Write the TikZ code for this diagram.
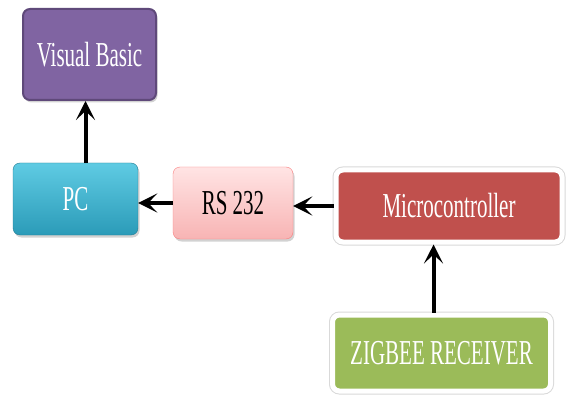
\documentclass[tikz,border=0pt]{standalone}
\usepackage{fontspec}
\newfontfamily\boxfont[FakeStretch=0.6]{Liberation Serif}
\usetikzlibrary{arrows.meta,shadows}
\definecolor{vbfill}{HTML}{8064A2}
\definecolor{vbline}{HTML}{5F497A}
\definecolor{pctop}{HTML}{5FCBE3}
\definecolor{pcbot}{HTML}{2B9BB8}
\definecolor{rstop}{HTML}{FFE4E4}
\definecolor{rsbot}{HTML}{F8B4B4}
\definecolor{mcfill}{HTML}{C0504D}
\definecolor{zbfill}{HTML}{9BBB59}
\tikzset{
 blk/.style={rounded corners=7pt,font=\boxfont\fontsize{35}{35}\selectfont,align=center,inner sep=0pt,
   drop shadow={opacity=0.35,shadow xshift=1.5pt,shadow yshift=-2.5pt}},
 framed/.style={draw=white,line width=5pt,preaction={draw=black!15,line width=7pt}},
 link/.style={line width=4pt,-{Stealth[length=19pt,width=19pt,inset=9pt]}}
}
\begin{document}
\begin{tikzpicture}[x=1pt,y=1pt]
\useasboundingbox[fill=white](0,0)rectangle(567,402);
% blocks
\node[blk,fill=vbfill,draw=vbline,line width=2pt,text=white,minimum width=133pt,minimum height=91pt](vb)at(89.5,347.5){Visual Basic};
\node[blk,top color=pctop,bottom color=pcbot,draw=pcbot!80!black,text=white,minimum width=125pt,minimum height=72pt](pc)at(75.5,203){PC};
\node[blk,top color=rstop,bottom color=rsbot,draw=rsbot!70!red,text=black,minimum width=120pt,minimum height=72pt](rs)at(233,199){RS 232};
\node[blk,fill=mcfill,framed,text=white,minimum width=226pt,minimum height=72pt](mc)at(449,196){Microcontroller};
\node[blk,fill=zbfill,framed,text=white,minimum width=218pt,minimum height=76pt](zb)at(441.5,49){ZIGBEE RECEIVER};
% links
\draw[link]([xshift=10pt]pc.north)--([xshift=10pt]pc.north|-vb.south);
\draw[link](rs.west)--(rs.west-|pc.east);
\draw[link](mc.west)--(mc.west-|rs.east);
\draw[link]([xshift=-8pt]zb.north)--([xshift=-8pt]zb.north|-mc.south);
\end{tikzpicture}
\end{document}
